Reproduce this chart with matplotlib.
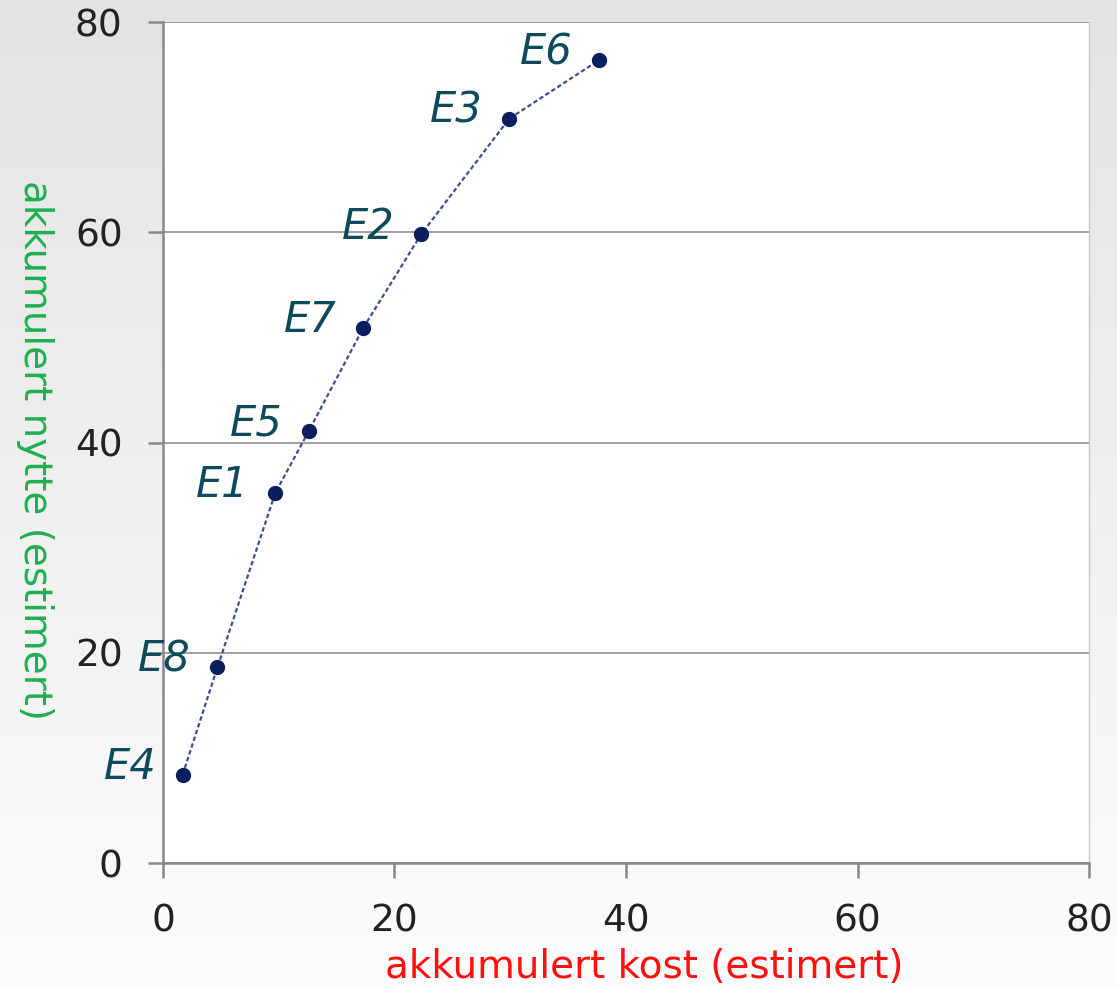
import numpy as np
import matplotlib
matplotlib.use("Agg")
import matplotlib.pyplot as plt

# accumulated cost / benefit per epic
labels = ["E4", "E8", "E1", "E5", "E7", "E2", "E3", "E6"]
kost = [1.7, 4.7, 9.7, 12.6, 17.3, 22.3, 29.9, 37.7]
nytte = [8.4, 18.6, 35.2, 41.1, 50.9, 59.8, 70.8, 76.4]

ticks = [0, 20, 40, 60, 80]

fig = plt.figure(figsize=(11.17, 9.88), dpi=100)

# light grey gradient behind everything
bg = fig.add_axes([0, 0, 1, 1], zorder=-10)
grad = np.linspace(0.89, 0.985, 256).reshape(-1, 1)
bg.imshow(grad, aspect="auto", cmap="gray", vmin=0, vmax=1, extent=[0, 1, 0, 1])
bg.axis("off")

ax = fig.add_axes([0.1459, 0.1265, 0.8291, 0.8512])
ax.set_facecolor("white")

ax.plot(kost, nytte, linestyle=(0, (2, 1.2)), color="#3d4f8c", linewidth=1.6,
        marker="o", markersize=10, markerfacecolor="#0b1f5e", markeredgecolor="#0b1f5e",
        zorder=3)

for lab, x, y in zip(labels, kost, nytte):
    ax.annotate(lab, (x, y), xytext=(-19, -3), textcoords="offset points",
                ha="right", va="baseline", fontsize=30, style="italic",
                color="#0c4a5c")

ax.set_xlim(0, 80)
ax.set_ylim(0, 80)
ax.set_xticks(ticks)
ax.set_yticks(ticks)
ax.tick_params(labelsize=27, length=11, width=1.8, color="#888888",
               labelcolor="#222222", direction="out")
ax.tick_params(axis="x", pad=18)
ax.tick_params(axis="y", pad=18)

ax.yaxis.grid(True, color="#999999", linewidth=1.3)
ax.set_axisbelow(True)
for side in ["left", "bottom"]:
    ax.spines[side].set_color("#888888")
    ax.spines[side].set_linewidth(1.8)
ax.spines["top"].set_visible(False)
ax.spines["right"].set_color("#c8c8c8")
ax.spines["right"].set_linewidth(1.0)

fig.text(0.5766, 0.021, "akkumulert kost (estimert)", color="#ff1010",
         fontsize=28, ha="center", va="center")
fig.text(0.031, 0.545, "akkumulert nytte (estimert)", color="#1fb050",
         fontsize=28, ha="center", va="center", rotation=-90)

fig.savefig("out.png", dpi=100)
